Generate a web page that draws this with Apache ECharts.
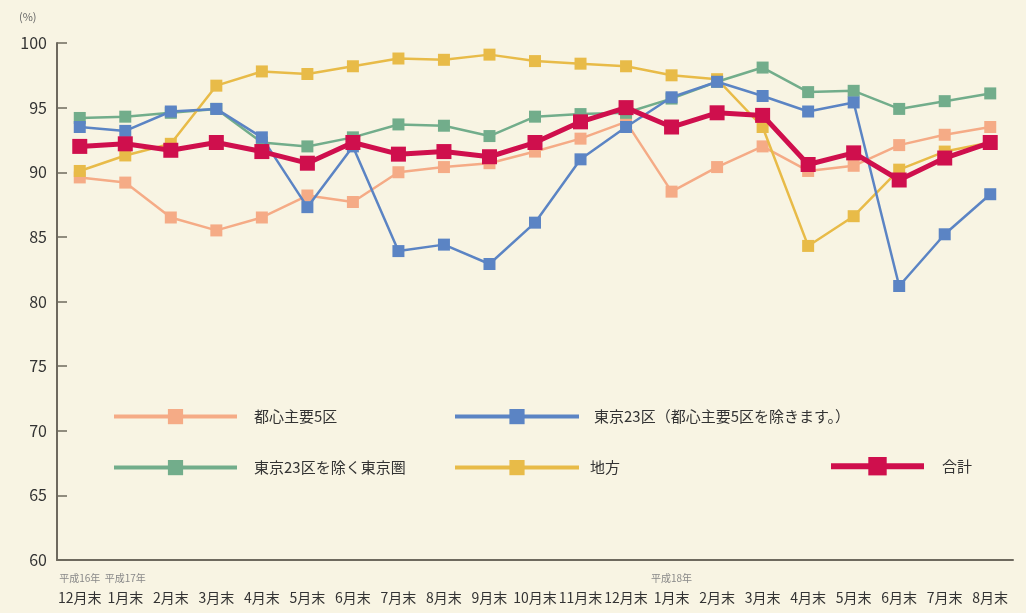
<!DOCTYPE html>
<html>
<head>
<meta charset="utf-8">
<script src="https://cdn.jsdelivr.net/npm/echarts@6/dist/echarts.min.js"></script>
<style>
  html, body { margin: 0; padding: 0; background: #f8f4e3; }
  #main { width: 1026px; height: 613px; }
</style>
</head>
<body>
<div id="main"></div>
<script>
var categories = ['12月末', '1月末', '2月末', '3月末', '4月末', '5月末', '6月末', '7月末', '8月末', '9月末', '10月末',
  '11月末', '12月末', '1月末', '2月末', '3月末', '4月末', '5月末', '6月末', '7月末', '8月末'];
var yearLabels = ['平成16年', '平成17年', '', '', '', '', '', '', '', '', '', '', '', '平成18年', '', '', '', '', '', '', ''];

var toshin5 = [89.6, 89.2, 86.5, 85.5, 86.5, 88.2, 87.7, 90.0, 90.4, 90.7, 91.6, 92.6, 93.9, 88.5, 90.4, 92.0, 90.1, 90.5, 92.1, 92.9, 93.5];
var tokyo23 = [93.5, 93.2, 94.7, 94.9, 92.7, 87.3, 92.0, 83.9, 84.4, 82.9, 86.1, 91.0, 93.5, 95.8, 97.0, 95.9, 94.7, 95.4, 81.2, 85.2, 88.3];
var tokyoken = [94.2, 94.3, 94.6, 94.9, 92.3, 92.0, 92.7, 93.7, 93.6, 92.8, 94.3, 94.5, 94.6, 95.7, 97.0, 98.1, 96.2, 96.3, 94.9, 95.5, 96.1];
var chiho = [90.1, 91.3, 92.2, 96.7, 97.8, 97.6, 98.2, 98.8, 98.7, 99.1, 98.6, 98.4, 98.2, 97.5, 97.2, 93.5, 84.3, 86.6, 90.2, 91.6, 92.3];
var total = [92.0, 92.2, 91.7, 92.3, 91.6, 90.7, 92.3, 91.4, 91.6, 91.2, 92.3, 93.9, 95.0, 93.5, 94.6, 94.4, 90.6, 91.5, 89.4, 91.1, 92.3];

var names = ['都心主要5区', '東京23区（都心主要5区を除きます。）', '東京23区を除く東京圏', '地方', '合計'];
var colors = ['#f5ab86', '#5b84c4', '#72ad8b', '#e8bb48', '#cf0f4d'];

var chart = echarts.init(document.getElementById('main'));

function lineSeries(name, data, color, width, size, z) {
  return {
    name: name,
    type: 'line',
    data: data,
    symbol: 'rect',
    symbolSize: size,
    z: z,
    lineStyle: { color: color, width: width },
    itemStyle: { color: color },
    emphasis: { disabled: true }
  };
}

// one legend per item so each can sit where the original puts it
function legendItem(name, left, top, width, height, lineWidth, gap) {
  return {
    data: [name],
    left: left,
    top: top,
    padding: 0,
    itemWidth: width,
    itemHeight: height,
    lineStyle: { width: lineWidth },
    selectedMode: false,
    textStyle: { fontSize: 15, color: '#333', padding: [0, 0, 0, gap], fontFamily: 'Noto Sans CJK JP' }
  };
}

var option = {
  backgroundColor: '#f8f4e3',
  animation: false,
  textStyle: { fontFamily: 'Noto Sans CJK JP' },
  title: {
    text: '(%)',
    left: 14,
    top: 6,
    textStyle: { fontSize: 11, fontWeight: 'normal', color: '#666' }
  },
  grid: { left: 57, right: 13, top: 43, bottom: 53 },
  legend: [
    legendItem(names[0], 112, 409, 123, 19, 4, 12),
    legendItem(names[1], 453, 409, 124, 19, 4, 10),
    legendItem(names[2], 112, 460, 123, 19, 4, 12),
    legendItem(names[3], 453, 460, 124, 19, 4, 6),
    legendItem(names[4], 828, 457, 93, 23, 6, 13)
  ],
  xAxis: {
    type: 'category',
    data: categories,
    boundaryGap: true,
    axisLine: { lineStyle: { color: '#6e695e', width: 2 } },
    axisTick: { inside: true, length: 7, interval: 0, lineStyle: { color: '#6e695e', width: 1.5 } },
    axisLabel: {
      interval: 0,
      margin: 10,
      formatter: function (value, index) {
        return '{y|' + (yearLabels[index] || ' ') + '}\n{m|' + value + '}';
      },
      rich: {
        y: { fontSize: 10, color: '#888', lineHeight: 16 },
        m: { fontSize: 14, color: '#333', lineHeight: 24 }
      }
    }
  },
  yAxis: {
    type: 'value',
    min: 60,
    max: 100,
    interval: 5,
    splitLine: { show: false },
    axisLine: { show: true, lineStyle: { color: '#6e695e', width: 2 } },
    axisTick: { show: true, inside: true, length: 10, lineStyle: { color: '#6e695e', width: 1.5 } },
    axisLabel: { fontSize: 16, color: '#333', margin: 10 }
  },
  series: [
    lineSeries(names[0], toshin5, colors[0], 2.5, 12, 2),
    lineSeries(names[2], tokyoken, colors[2], 2.5, 12, 2),
    lineSeries(names[3], chiho, colors[3], 2.5, 12, 3),
    lineSeries(names[1], tokyo23, colors[1], 2.5, 12, 4),
    lineSeries(names[4], total, colors[4], 5, 15, 5)
  ]
};

chart.setOption(option);
</script>
</body>
</html>
